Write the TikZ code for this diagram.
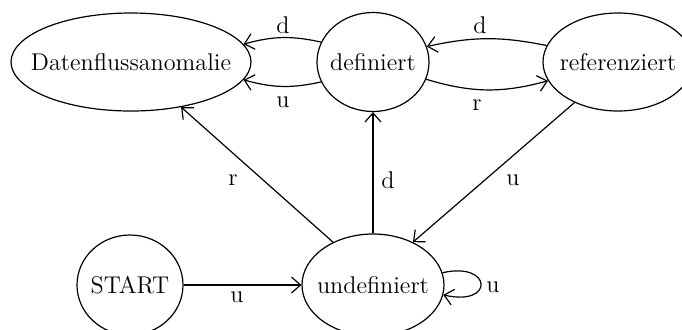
\documentclass[tikz,border=0pt]{standalone}
\usetikzlibrary{shapes.geometric,arrows.meta}
\begin{document}
\begin{tikzpicture}[x=0.5pt,y=-0.5pt,
  state/.style={draw,ellipse,inner sep=0pt,line width=0.6pt},
  arr/.style={line width=0.6pt,-{Straight Barb[length=4.5pt,width=8pt,line width=0.6pt]}},
  lbl/.style={inner sep=0pt},
  every node/.style={font=\fontsize{12.1}{14}\selectfont}]
\useasboundingbox (0,0) rectangle (682,329);
% states (fixed-size ellipses, text centred inside)
\node[state,minimum width=120pt,minimum height=49pt] (dfa) at (131,62) {\makebox[0pt]{Datenflussanomalie}};
\node[state,minimum width=56pt,minimum height=49.5pt] (def) at (373,62) {\makebox[0pt]{definiert}};
\node[state,minimum width=75pt,minimum height=49pt] (ref) at (618,62) {\makebox[0pt]{referenziert}};
\node[state,minimum width=53pt,minimum height=50pt] (start) at (130,285) {\makebox[0pt]{START}};
\node[state,minimum width=71pt,minimum height=51pt] (und) at (373,285) {\makebox[0pt]{undefiniert}};
% transitions
\draw[arr] (def.159) to[bend right=14] (dfa.9.5);
\draw[arr] (def.-159) to[bend left=14] (dfa.-9.5);
\draw[arr] (ref.167) to[bend right=12] (def.16);
\draw[arr] (def.-18.5) to[bend right=16] (ref.-165);
\draw[arr] (und.133.6) -- (dfa.-42);
\draw[arr] (und.north) -- (def.south);
\draw[arr] (ref.223.6) -- (und.47);
\draw[arr] (start) -- (und);
\draw[arr] (und.10.7) .. controls +(-13:51) and +(13:53) .. (und.-8);
% transition labels
\node[lbl] (l-dd) at (283,25) {d};
\node[lbl] (l-du) at (283,102) {u};
\node[lbl] (l-rd) at (480,25) {d};
\node[lbl] (l-rr) at (477,105) {r};
\node[lbl] (l-ur) at (233,180) {r};
\node[lbl] (l-ud) at (388,180) {d};
\node[lbl] (l-uu) at (513,180) {u};
\node[lbl] (l-su) at (237,297) {u};
\node[lbl] (l-loop) at (493,287) {u};
\end{tikzpicture}
\end{document}
